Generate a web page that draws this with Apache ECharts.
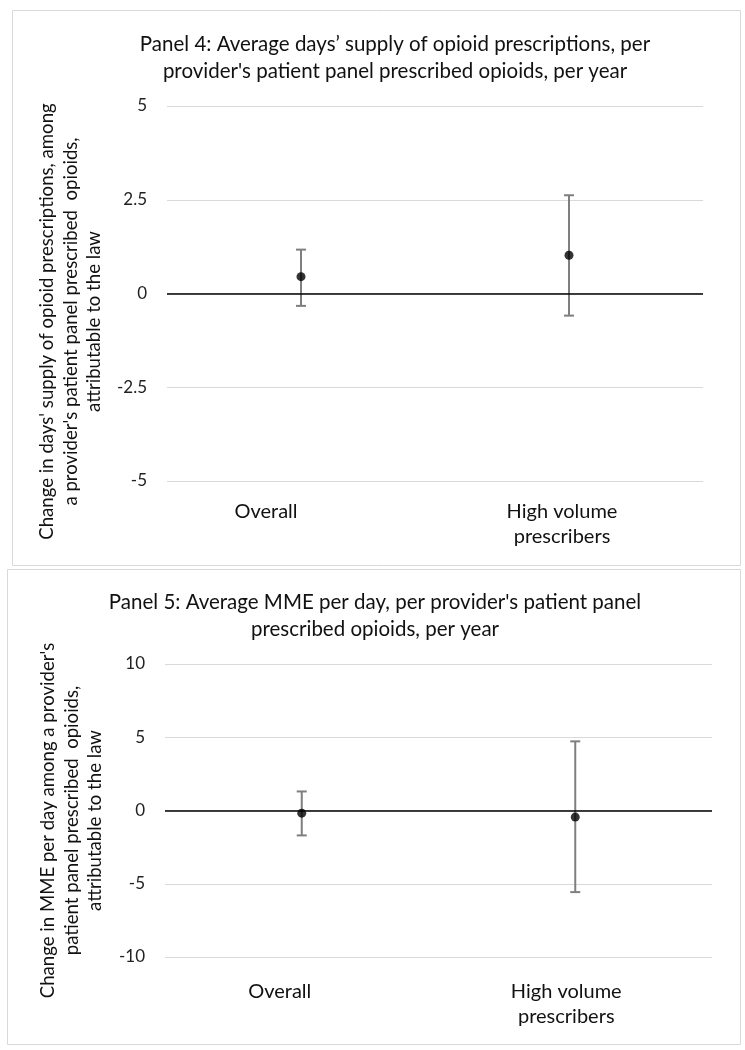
<!DOCTYPE html>
<html><head><meta charset="utf-8">
<script src="https://cdn.jsdelivr.net/npm/echarts@6/dist/echarts.min.js"></script>
<style>html,body{margin:0;padding:0;background:#fff}#c{width:745px;height:1050px}</style>
</head><body><div id="c"></div>
<script>
const categories = ['Overall', 'High volume\nprescribers'];
const p4Est = [0.45, 1.02];
const p4Low = [-0.33, -0.59];
const p4High = [1.17, 2.62];
const p5Est = [-0.18, -0.45];
const p5Low = [-1.70, -5.57];
const p5High = [1.30, 4.72];
const p4Ticks = [-5, -2.5, 0, 2.5, 5];
const p5Ticks = [-10, -5, 0, 5, 10];
const p4Title = 'Panel 4: Average days\u2019 supply of opioid prescriptions, per\nprovider\'s patient panel prescribed opioids, per year';
const p5Title = 'Panel 5: Average MME per day, per provider\'s patient panel\nprescribed opioids, per year';
const p4YName = 'Change in days\' supply of opioid prescriptions, among\na provider\'s patient panel prescribed  opioids,\nattributable to the law';
const p5YName = 'Change in MME per day among a provider\'s\npatient panel prescribed  opioids,\nattributable to the law';

const FONT = 'Lato';
const chart = echarts.init(document.getElementById('c'));

function errSeries(idx, low, high) {
  return {
    type: 'custom', xAxisIndex: idx, yAxisIndex: idx, silent: true, z: 3,
    data: low.map((l, i) => [i, l, high[i]]),
    renderItem: function (params, api) {
      const lo = api.coord([api.value(0), api.value(1)]);
      const hi = api.coord([api.value(0), api.value(2)]);
      const w = 5;
      const st = { stroke: '#7f7f7f', lineWidth: 2 };
      return { type: 'group', children: [
        { type: 'line', shape: { x1: lo[0], y1: lo[1], x2: hi[0], y2: hi[1] }, style: st },
        { type: 'line', shape: { x1: lo[0] - w, y1: lo[1], x2: lo[0] + w, y2: lo[1] }, style: st },
        { type: 'line', shape: { x1: hi[0] - w, y1: hi[1], x2: hi[0] + w, y2: hi[1] }, style: st }
      ]};
    }
  };
}
function ptSeries(idx, est) {
  return {
    type: 'scatter', xAxisIndex: idx, yAxisIndex: idx, z: 4, silent: true,
    symbol: 'circle', symbolSize: 9, itemStyle: { color: '#000' },
    data: est.map((v, i) => [i, v]),
    markLine: { silent: true, symbol: 'none', label: { show: false },
      lineStyle: { color: '#000', width: 1.5, type: 'solid' }, data: [{ yAxis: 0 }] }
  };
}
// label shifts (layout only): right padding moves the centred label left
function xAx(idx, pads, margin) {
  return { type: 'category', gridIndex: idx, boundaryGap: true,
    data: categories.map((c, i) => ({ value: c, textStyle: { padding: [0, pads[i], 0, 0] } })),
    axisLine: { show: false }, axisTick: { show: false }, splitLine: { show: false },
    axisLabel: { color: '#111', fontFamily: FONT, fontSize: 20, lineHeight: 25, margin: margin, interval: 0 } };
}
function yAx(idx, ticks, interval, name, gap, shiftDown) {
  return { type: 'value', gridIndex: idx, min: ticks[0], max: ticks[ticks.length - 1], interval: interval,
    axisLine: { show: false }, axisTick: { show: false },
    splitLine: { lineStyle: { color: '#d9d9d9', width: 1.2 } },
    axisLabel: { color: '#222', fontFamily: FONT, fontSize: 17, margin: 20,
      formatter: v => String(v) },
    name: name, nameLocation: 'middle', nameRotate: 90, nameGap: gap,
    nameTextStyle: { color: '#111', fontFamily: FONT, fontSize: 18.6, lineHeight: 23.5, align: 'center',
      padding: [0, shiftDown * 2, 0, 0] } };
}

chart.setOption({
  animation: false,
  graphic: [
    { type: 'rect', shape: { x: 12.5, y: 10.5, width: 728, height: 555 }, style: { fill: 'none', stroke: '#d9d9d9', lineWidth: 1 }, z: -1 },
    { type: 'rect', shape: { x: 7.5, y: 569.5, width: 733, height: 475 }, style: { fill: 'none', stroke: '#d9d9d9', lineWidth: 1 }, z: -1 },
    { type: 'text', x: 395, y: 31, style: { text: p4Title, textAlign: 'center', fill: '#111', font: '20.5px ' + FONT, lineHeight: 27 } },
    { type: 'text', x: 375, y: 589, style: { text: p5Title, textAlign: 'center', fill: '#111', font: '20.5px ' + FONT, lineHeight: 27 } }
  ],
  grid: [
    { left: 167, top: 106, width: 536, height: 375 },
    { left: 165, top: 664, width: 547, height: 293 }
  ],
  xAxis: [xAx(0, [70, 14], 18), xAx(1, [44, 18], 22)],
  yAxis: [yAx(0, p4Ticks, 2.5, p4YName, 59, 28), yAx(1, p5Ticks, 5, p5YName, 58, 10)],
  series: [errSeries(0, p4Low, p4High), ptSeries(0, p4Est), errSeries(1, p5Low, p5High), ptSeries(1, p5Est)]
});
</script></body></html>
